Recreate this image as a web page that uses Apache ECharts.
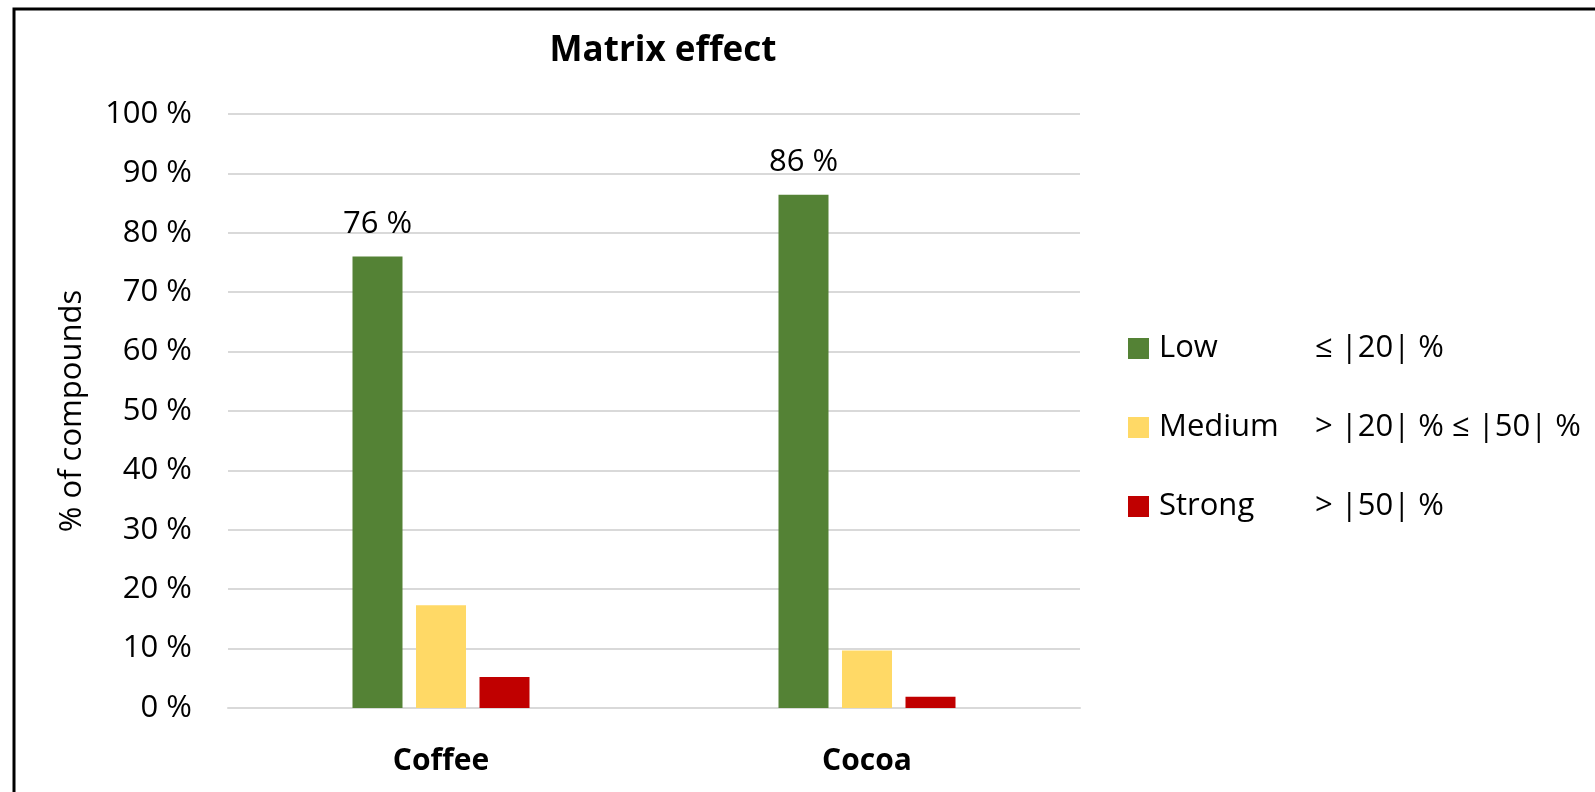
<!DOCTYPE html>
<html>
<head>
<meta charset="utf-8">
<title>Matrix effect</title>
<script src="https://cdn.jsdelivr.net/npm/echarts@6/dist/echarts.min.js"></script>
<style>
  html, body { margin: 0; padding: 0; background: #ffffff; }
  #chart { width: 1595px; height: 792px; }
</style>
</head>
<body>
<div id="chart"></div>
<script>
// Matrices and the share of compounds (%) in each matrix-effect class
const categories = ['Coffee', 'Cocoa'];
const seriesNames = ['Low', 'Medium', 'Strong'];
const thresholds = ['≤ |20| %', '> |20| % ≤ |50| %', '> |50| %'];
const lowValues = [76, 86.4];
const mediumValues = [17.3, 9.7];
const strongValues = [5.2, 1.9];
const yTicks = [0, 10, 20, 30, 40, 50, 60, 70, 80, 90, 100];

const colors = ['#548235', '#FFD966', '#C00000'];
const FONT = '"Open Sans", "Noto Sans", sans-serif';

const chart = echarts.init(document.getElementById('chart'), null, { renderer: 'canvas' });

const valuesBySeries = [lowValues, mediumValues, strongValues];

const option = {
  animation: false,
  backgroundColor: '#ffffff',
  title: {
    text: 'Matrix effect',
    left: 663,
    top: 34,
    textAlign: 'center',
    padding: 0,
    textStyle: { fontFamily: FONT, fontWeight: 'bold', fontSize: 35, color: '#000000' }
  },
  grid: { left: 228, right: 515, top: 114, bottom: 84 },
  legend: {
    orient: 'vertical',
    left: 1128,
    top: 333,
    padding: 0,
    icon: 'rect',
    itemWidth: 21,
    itemHeight: 21,
    itemGap: 48,
    data: seriesNames,
    formatter: function (name) {
      const i = seriesNames.indexOf(name);
      return '{a|' + name + '}{b|' + thresholds[i] + '}';
    },
    textStyle: {
      fontFamily: FONT,
      fontSize: 31,
      color: '#000000',
      rich: {
        a: { fontFamily: FONT, fontSize: 31, lineHeight: 31, color: '#000000', width: 156, padding: [0, 0, 0, 5] },
        b: { fontFamily: FONT, fontSize: 31, lineHeight: 31, color: '#000000' }
      }
    }
  },
  xAxis: {
    type: 'category',
    data: categories,
    axisTick: { show: false },
    axisLine: { show: true, lineStyle: { color: '#D9D9D9', width: 2 } },
    axisLabel: {
      margin: 38,
      fontFamily: FONT,
      fontWeight: 'bold',
      fontSize: 30,
      color: '#000000'
    }
  },
  yAxis: {
    type: 'value',
    min: yTicks[0],
    max: yTicks[yTicks.length - 1],
    interval: yTicks[1] - yTicks[0],
    name: '% of compounds',
    nameLocation: 'middle',
    nameRotate: 90,
    nameGap: 140,
    nameTextStyle: { fontFamily: FONT, fontSize: 31, color: '#000000' },
    axisLine: { show: false },
    axisTick: { show: false },
    splitLine: { show: true, lineStyle: { color: '#D9D9D9', width: 2 } },
    axisLabel: {
      margin: 36,
      fontFamily: FONT,
      fontSize: 31,
      color: '#000000',
      formatter: '{value} %'
    }
  },
  series: seriesNames.map(function (name, i) {
    return {
      name: name,
      type: 'bar',
      data: valuesBySeries[i],
      barWidth: 50,
      barGap: '27%',
      itemStyle: { color: colors[i] },
      label: {
        show: i === 0,
        position: 'top',
        distance: 17,
        fontFamily: FONT,
        fontSize: 31,
        color: '#000000',
        formatter: function (p) { return Math.round(p.value) + ' %'; }
      }
    };
  }),
  graphic: [
    {
      // chart frame (top and left edges)
      type: 'polyline',
      silent: true,
      shape: { points: [[14, 800], [14, 9], [1600, 9]] },
      style: { stroke: '#000000', lineWidth: 3, fill: null }
    }
  ]
};

chart.setOption(option);
</script>
</body>
</html>
